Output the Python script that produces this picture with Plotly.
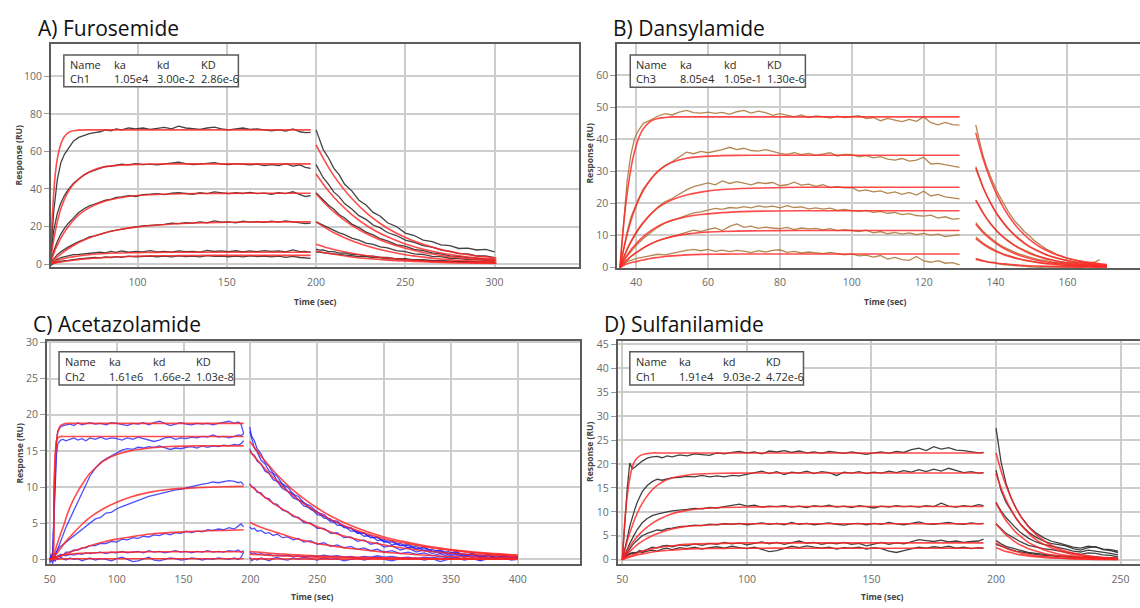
import plotly.graph_objects as go

W, H = 1140, 608

# ---------------- Panel A: Furosemide ----------------
A_t_on = [51, 53, 55, 57, 59, 61, 64, 67, 70, 73, 76, 79, 82, 85, 88, 91, 95, 99, 103, 107,
          111, 115, 119, 123, 127, 131, 135, 139, 143, 147, 151, 155, 159, 163, 167, 171, 175, 179, 183, 187,
          191, 194, 197]
A1_on = [1, 28, 45, 54, 58.5, 61.5, 65.5, 67.5, 68.5, 69.5,
         70, 70.5, 71.5, 71, 72, 71.5, 72.5, 72, 72.5, 71.8,
         72.3, 72.8, 72, 73.5, 72.5, 72.2, 71.8, 72.5, 73, 72,
         71.5, 72, 72.5, 71.8, 72, 71.5, 71, 71.5, 70.8, 72,
         70.5, 70, 70.2]
A2_on = [1, 18, 27, 32.5, 36.5, 39.5, 43, 45.5, 47.5, 49,
         50, 51, 52, 52, 52.8, 53.2, 52.8, 53.5, 53, 53.3,
         52.8, 53.2, 53.8, 54.3, 53.5, 53, 53.2, 53.8, 54, 53.2,
         53, 53.5, 53, 52.8, 53.2, 52.5, 53, 52.5, 53.5, 52.2,
         52.8, 51.5, 51]
A3_on = [0.5, 7, 12, 16, 19, 21.5, 24.5, 27.5, 29.5, 31,
         32, 33, 34, 34.5, 35.5, 35.8, 36.5, 36, 37, 37.2,
         37.5, 37, 37.8, 38, 37.5, 37.2, 38, 37.5, 38.5, 37.8,
         37.5, 38, 37.6, 38.2, 37.5, 37.8, 37.2, 38, 37.5, 38.5,
         37, 36, 36.5]
A4_on = [0.5, 3, 5, 6.5, 8, 9, 10.5, 12, 13, 14.5,
         15, 16, 16.8, 17.5, 18, 18.5, 19.5, 19.8, 20.3, 20.5,
         21, 21.2, 21.8, 21.5, 22, 21.8, 22.5, 22, 23, 22.3,
         22.5, 22, 22.8, 22.3, 22.6, 22.2, 22.8, 22.4, 23, 22.5,
         22, 21.5, 21.8]
A5_on = [0, 1.5, 2.5, 3.5, 4, 4.3, 5, 5.2, 5.5, 5.8,
         6, 6.3, 6, 6.8, 6.2, 7, 6.3, 6.8, 6.5, 7.2,
         6.5, 6.8, 6.3, 7, 6.6, 6.8, 6.4, 7.3, 6.7, 7,
         6.6, 7.1, 6.5, 7, 6.6, 7.2, 6.8, 7, 6.5, 7.5,
         6.6, 6.8, 6.2]
A6_on = [-1, 0.5, 1, 1.5, 1.8, 2, 2.5, 2.8, 3, 3.3,
         3.5, 3.3, 3.8, 3.5, 4, 3.6, 4.2, 3.8, 4, 4.3,
         3.9, 4.2, 3.8, 4.4, 4, 4.2, 3.8, 4.5, 4.1, 4.3,
         3.9, 4.2, 3.8, 4.4, 4, 4.3, 3.8, 4.2, 3.6, 4.1,
         3.5, 3.2, 3]
A_t_off = [200, 202, 204, 207, 210, 213, 216, 220, 224, 228, 232, 236, 240, 245, 250, 255, 260, 265, 270, 275,
           280, 285, 290, 295, 300]
A1_off = [71.5, 66.5, 61, 56.5, 51, 47.5, 42.5, 39, 34, 31.5, 27.5, 25.5, 22, 20, 16.5, 15.2, 12.8, 12, 10.2, 9.8,
          8.3, 8.5, 7.5, 7.8, 6.5]
A2_off = [53, 49.8, 46, 42.5, 38.3, 35.8, 32.2, 29.3, 25.8, 23.8, 20.8, 19.3, 16.8, 15.2, 12.8, 11.5, 9.8, 9, 7.5, 6.8,
          5.6, 5.4, 4.3, 4.4, 3.4]
A3_off = [38, 36, 34.5, 31.3, 29.2, 26.3, 24.5, 21.3, 19.4, 17, 15.5, 13.5, 12.4, 10.4, 9.4, 7.8, 7.2, 5.9, 5.4, 4.4,
          4.1, 3.4, 3.2, 2.7, 2.6]
A4_off = [22.5, 21.6, 21, 19.3, 18.2, 16.6, 15.7, 13.8, 12.8, 11.2, 10.5, 9.1, 8.6, 7.1, 6.6, 5.4, 5.1, 4.1, 4, 3.1,
          3, 2.4, 2.5, 1.8, 1.9]
A5_off = [8, 7.4, 7.5, 6.6, 6.6, 5.8, 5.9, 5, 5, 4.2, 4.2, 3.5, 3.6, 2.8, 2.9, 2.2, 2.4, 1.8, 2, 1.4,
          1.6, 1.1, 1.4, 0.9, 1.1]
A6_off = [6.5, 6.3, 5.9, 5.8, 5.3, 5.3, 4.7, 4.6, 4, 4, 3.4, 3.4, 2.8, 2.8, 2.2, 2.3, 1.8, 1.9, 1.4, 1.5,
          1.1, 1.2, 0.8, 1, 0.7]
A_tf_on = [51, 52, 53, 54, 55, 57, 59, 62, 65, 70, 75, 80, 90, 100, 110, 125, 140, 160, 180, 197]
AF1_on = [0, 22, 38, 49, 56, 64, 68, 70.5, 71.2, 71.5, 71.5, 71.5, 71.5, 71.5, 71.5, 71.5, 71.5, 71.5, 71.5, 71.5]
AF2_on = [0, 7, 13, 18, 22.5, 29.5, 34.5, 40, 43.5, 47.5, 50, 51.5, 52.7, 53.1, 53.3, 53.4, 53.4, 53.4, 53.4, 53.4]
AF3_on = [0, 3, 5.5, 8, 10, 13.8, 17, 21, 24.3, 28.3, 31, 33, 35.3, 36.5, 37.1, 37.5, 37.6, 37.7, 37.7, 37.7]
AF4_on = [0, 1, 2, 2.9, 3.8, 5.3, 6.8, 8.7, 10.4, 12.8, 14.7, 16.2, 18.4, 19.8, 20.7, 21.6, 22.1, 22.4, 22.5, 22.5]
AF5_on = [0, 0.5, 1, 1.4, 1.8, 2.5, 3, 3.6, 4.1, 4.7, 5.2, 5.5, 5.9, 6.1, 6.2, 6.3, 6.3, 6.3, 6.3, 6.3]
AF6_on = [0, 0.2, 0.4, 0.6, 0.8, 1.1, 1.4, 1.8, 2.2, 2.7, 3.1, 3.4, 3.9, 4.2, 4.4, 4.5, 4.6, 4.6, 4.6, 4.6]
A_tf_off = [200, 205, 210, 220, 230, 240, 250, 260, 270, 280, 290, 301]
AF1_off = [63.5, 54.7, 47, 34.9, 25.8, 19.1, 14.2, 10.5, 7.7, 5.8, 4.3, 3.2]
AF2_off = [48, 41.3, 35.6, 26.4, 19.5, 14.5, 10.7, 7.9, 5.9, 4.4, 3.2, 2.4]
AF3_off = [37.5, 32.3, 27.8, 20.6, 15.3, 11.3, 8.4, 6.2, 4.6, 3.4, 2.5, 1.9]
AF4_off = [22.5, 19.4, 16.7, 12.4, 9.2, 6.8, 5, 3.7, 2.7, 2, 1.5, 1.1]
AF5_off = [10.5, 9, 7.8, 5.8, 4.3, 3.2, 2.3, 1.7, 1.3, 1, 0.7, 0.5]
AF6_off = [7, 6, 5.2, 3.8, 2.8, 2.1, 1.6, 1.2, 0.9, 0.6, 0.5, 0.35]

# ---------------- Panel B: Dansylamide ----------------
B_t_on = [35.5, 36.5, 37.5, 38.5, 39.5, 40.5, 42, 44, 46, 48,
          50, 52, 54, 56, 58, 60, 62, 64, 66, 68,
          70, 72, 74, 76, 78, 80, 82, 84, 86, 88,
          90, 92, 94, 96, 98, 100, 102, 104, 106, 108,
          110, 112, 114, 116, 118, 120, 122, 124, 126, 128,
          130]
B1_on = [0, 14, 27, 35, 40, 42.5, 45, 46, 47.2, 48,
         47.6, 48.5, 49, 48.3, 48.2, 48.5, 48.1, 48.4, 47.8, 48.6,
         49, 48.2, 48.8, 48.3, 47.5, 48, 47.5, 47, 47.6, 46.8,
         47.3, 47.1, 46.6, 47.2, 46.8, 47, 47.4, 46.5, 46.8, 45.8,
         46.5, 46, 45.5, 46.2, 45.6, 47, 45.2, 44.5, 45.3, 44.6,
         44.4]
B2_on = [0, 6, 11, 15.5, 18.5, 21, 24.5, 27.5, 30, 31.8,
         33, 34.5, 36, 35.5, 36.2, 35.8, 36.2, 36.8, 37.5, 36.8,
         37.2, 36.5, 36.3, 36.8, 36.2, 35.6, 35.3, 35.8, 35.2, 35.6,
         35, 35.5, 35.8, 34.8, 35.3, 35.2, 34.5, 34.9, 34.2, 34.6,
         33.8, 33.5, 34, 33.2, 33.5, 34.4, 32.3, 32.5, 32.1, 31.6,
         31.2]
B3_on = [0, 3, 5.5, 7.8, 9.8, 11.5, 13.8, 16.5, 18.8, 20.5,
         21.5, 22.8, 24.2, 25.2, 25.8, 26.4, 25.8, 27, 26.2, 26.8,
         26.3, 25.8, 26.5, 26.2, 26.5, 25.5, 25.8, 26.6, 25.7, 26,
         25.3, 25.8, 24.9, 25.2, 24.8, 24.9, 23.8, 24.2, 23.6, 23.9,
         23.1, 23.6, 22.8, 23.4, 22.6, 23.8, 22.3, 22.8, 22, 21.8,
         21.4]
B4_on = [0, 2, 3.5, 5, 6.2, 7.4, 9, 10.8, 12.5, 13.8,
         14.6, 15.2, 16.2, 17, 17.3, 17.9, 18.4, 18.1, 18.7, 18.5,
         19, 18.6, 19.2, 18.8, 19.1, 18.6, 19.3, 18.7, 18.9, 18.3,
         18.6, 18.2, 18.5, 17.8, 18.1, 17.7, 17.5, 17.8, 17.2, 17.5,
         16.9, 17.2, 16.5, 16.8, 16.2, 16, 16.3, 15.4, 15.8, 15.1,
         15.2]
B5_on = [0, 1.2, 2.3, 3.3, 4.1, 4.9, 6, 7.3, 8.3, 9,
         9.6, 10.3, 10.8, 11.6, 11.2, 11.9, 12.3, 11.5, 12.8, 13.6,
         12.5, 12.9, 12.2, 12.6, 12.3, 12.1, 12.5, 11.8, 12.3, 12,
         12.2, 11.7, 12.1, 11.5, 11.8, 11.5, 11.2, 11.6, 10.8, 11.2,
         10.5, 10.9, 10.4, 10.8, 10.2, 10.6, 10.1, 10.4, 9.6, 9.9,
         10.2]
B6_on = [0, 1, 1.8, 2.2, 2.6, 2.9, 3.2, 3.6, 4.1, 3.9,
         4.4, 4.8, 5.3, 5.6, 5.2, 5.6, 5, 5.4, 4.9, 5.3,
         5.1, 4.6, 5.2, 4.8, 5.3, 5.5, 4.7, 5, 4.5, 4.8,
         4.6, 4.3, 4.7, 4.4, 3.9, 4.2, 3.6, 3.8, 3.2, 3.7,
         2.6, 3.1, 2.4, 2.2, 3.4, 2, 1.6, 2.1, 1.3, 1.5,
         0.8]
B_t_off = [134.5, 135.5, 136.5, 137.5, 138.5, 139.5, 140.5, 142, 143.5, 145, 146.5, 148, 149.5, 151, 152.5, 154,
           155.5, 157, 158.5, 160, 161.5, 163, 164.5, 166, 167.5, 169]
B1_off = [44.5, 39.5, 35, 31.5, 28.5, 26, 23.5, 20.5, 17.5, 15, 13, 11.2, 9.8, 8.2, 7, 5.8, 5, 4.1, 3.5, 2.8,
          2.5, 2, 1.6, 1.3, 1.6, 2.4]
B2_off = [31.5, 28, 25, 22.5, 20.3, 18.3, 16.5, 14.2, 12.2, 10.5, 9, 7.7, 6.5, 5.6, 4.8, 4, 3.4, 2.9, 2.5, 2.1,
          1.8, 1.5, 1.3, 1.2, 1, 1.1]
B3_off = [21, 19, 17, 15.3, 13.8, 12.4, 11.2, 9.6, 8.3, 7.1, 6.2, 5.4, 4.6, 3.9, 3.3, 2.8, 2.3, 2, 1.7, 1.4,
          1.6, 1.1, 0.9, 1.2, 0.8, 0.6]
B4_off = [14, 12.6, 11.3, 10.3, 9.3, 8.4, 7.5, 6.5, 5.6, 4.9, 4.2, 3.6, 3.2, 2.7, 2.3, 2.2, 1.7, 1.5, 1.3, 1,
          1.1, 0.8, 0.6, 0.9, 0.5, 0.4]
B5_off = [9.5, 8.5, 7.6, 6.9, 6.2, 5.6, 5, 4.3, 3.7, 3.2, 2.7, 2.3, 2, 1.7, 1.5, 1.2, 1.4, 1, 0.8, 0.6,
          0.8, 0.5, 0.4, 0.3, 0.5, 0.3]
B6_off = [2.8, 2.5, 2.2, 1.8, 1.5, 1.6, 1.2, 0.9, 0.7, 0.5, 0.4, 0.3, 0.2, 0.1, 0, 0.2, 0.1, 0, 0.1, 0,
          0.2, 0, 0.1, 0.3, 0.1, 0.2]
B_tf_on = [35.5, 36, 36.5, 37, 37.5, 38, 39, 40, 41, 42, 44, 46, 48, 50, 54, 58, 64, 72, 85, 100, 130]
BF1_on = [0, 7, 13, 18.5, 23, 27, 33.5, 38, 41.2, 43.3, 45.6, 46.5, 46.8, 47, 47, 47, 47, 47, 47, 47, 47]
BF2_on = [0, 2.8, 5.5, 8, 10.3, 12.4, 16.1, 19.2, 21.8, 24, 27.4, 29.9, 31.6, 32.8, 34.1, 34.6, 34.9, 35, 35, 35, 35]
BF3_on = [0, 1.5, 3, 4.4, 5.7, 6.9, 9, 10.9, 12.6, 14.1, 16.6, 18.6, 20, 21.1, 22.6, 23.5, 24.3, 24.7, 25, 25, 25]
BF4_on = [0, 1, 2, 2.9, 3.8, 4.6, 6.1, 7.4, 8.6, 9.6, 11.4, 12.8, 13.9, 14.7, 15.8, 16.5, 17.1, 17.5, 17.7, 17.7, 17.7]
BF5_on = [0, 0.7, 1.3, 1.9, 2.4, 2.9, 3.8, 4.6, 5.4, 6.1, 7.3, 8.3, 9, 9.6, 10.4, 10.9, 11.2, 11.4, 11.5, 11.5, 11.5]
BF6_on = [0, 0.3, 0.6, 0.9, 1.1, 1.3, 1.6, 1.8, 2.1, 2.3, 2.8, 3.1, 3.4, 3.6, 3.9, 4.05, 4.15, 4.2, 4.2, 4.2, 4.2]
B_tf_off = [134.5, 136.5, 138.5, 140.5, 142.5, 144.5, 146.5, 149.5, 152.5, 155.5, 159.5, 164.5, 171]
BF1_off = [42, 34.1, 27.6, 22.4, 18.1, 14.7, 11.9, 8.7, 6.3, 4.6, 3, 1.8, 0.9]
BF2_off = [31, 25.1, 20.4, 16.5, 13.4, 10.9, 8.8, 6.4, 4.7, 3.4, 2.2, 1.3, 0.65]
BF3_off = [21, 17, 13.8, 11.2, 9.1, 7.4, 6, 4.3, 3.2, 2.3, 1.5, 0.9, 0.45]
BF4_off = [13.5, 10.9, 8.9, 7.2, 5.8, 4.7, 3.8, 2.8, 2, 1.5, 1, 0.6, 0.3]
BF5_off = [9, 7.3, 5.9, 4.8, 3.9, 3.2, 2.6, 1.9, 1.4, 1, 0.6, 0.4, 0.2]
BF6_off = [2.5, 2, 1.6, 1.3, 1.1, 0.9, 0.7, 0.5, 0.4, 0.3, 0.2, 0.1, 0.05]

# ---------------- Panel C: Acetazolamide ----------------
C_t_on = [50, 51, 52, 53, 54, 55, 56, 58, 60, 62,
          65, 68, 71, 74, 77, 80, 84, 88, 92, 96,
          100, 104, 108, 112, 116, 120, 124, 128, 132, 136,
          140, 144, 148, 152, 156, 160, 164, 168, 172, 176,
          180, 184, 188, 191, 193, 195]
C1_on = [0, -0.3, 0.5, 6, 13, 16.5, 17.8, 18.3, 18.5, 18.6,
         18.7, 18.5, 18.9, 18.6, 18.8, 18.9, 18.7, 18.8, 18.6, 18.9,
         18.8, 18.7, 18.5, 18.8, 18.7, 18.9, 18.6, 18.9, 19.1, 18.8,
         18.5, 18.7, 18.9, 18.7, 18.6, 18.8, 18.7, 18.8, 18.6, 18.8,
         18.9, 19.1, 18.8, 19, 18.7, 17.4]
C2_on = [0.2, 0, 0.5, 5, 11, 14.5, 16, 16.5, 16.6, 16.4,
         16.6, 16.8, 16.5, 16.7, 16.4, 16.8, 16.6, 16.9, 16.6, 16.8,
         16.7, 16.5, 16.8, 16.6, 16.9, 16.7, 16.5, 16.3, 16.5, 16.8,
         16.9, 16.6, 16.8, 16.7, 16.9, 16.8, 17, 16.9, 17.2, 16.9,
         17, 16.8, 17, 17.2, 17.1, 17.4]
C3_on = [0, 0.2, -0.2, 0.3, 0.6, 1, 1.5, 2.5, 3.5, 4.4,
         5.6, 6.8, 8, 9.3, 10.5, 11.5, 12.6, 13.4, 13.9, 14.3,
         14.8, 15.1, 15.3, 15.2, 15.5, 15.4, 15.6, 15.5, 15.7, 15.4,
         15.2, 15.4, 15.3, 15.5, 15.6, 15.4, 15.7, 15.5, 15.7, 15.6,
         15.8, 15.7, 15.9, 15.8, 16, 16.4]
C4_on = [0, 0.3, 0, 0.4, 0.8, 1.1, 1.4, 1.8, 2.1, 2.4,
         2.8, 3.3, 3.7, 4.2, 4.6, 5, 5.6, 5.8, 6.4, 6.5,
         7, 7.3, 7.6, 7.9, 8.2, 8.4, 8.7, 8.9, 9.1, 9.3,
         9.4, 9.6, 9.7, 9.9, 10.1, 10.2, 10.4, 10.5, 10.7, 10.6,
         10.8, 10.9, 10.8, 10.6, 10.7, 10.3]
C5_on = [0, 0.5, 0.2, 0.1, 0.3, 0.2, 0.4, 0.7, 0.6, 1.0,
         1.0, 1.3, 1.3, 1.6, 1.6, 1.9, 1.9, 2.2, 2.2, 2.5,
         2.4, 2.8, 2.7, 3.0, 2.9, 3.2, 3.1, 3.4, 3.3, 3.6,
         3.4, 3.7, 3.6, 3.9, 3.7, 3.9, 3.8, 4.1, 4.0, 4.2,
         4.1, 4.4, 4.2, 4.6, 4.9, 4.5]
C6_on = [0, 0.3, -0.2, 0.2, 0.4, 0.3, 0.5, 0.4, 0.6, 0.5,
         0.7, 0.6, 0.8, 0.7, 0.9, 0.8, 0.9, 1, 0.8, 1,
         0.9, 1.1, 0.9, 1, 1.1, 0.9, 1.2, 1, 1.1, 0.9,
         1, 1.2, 1, 1.1, 0.9, 1.1, 1, 1.2, 1, 1.1,
         1, 1.2, 1.1, 1.3, 1, 1.2]
C7_on = [-0.5, 0.8, -0.6, 0.1, -0.3, 0.2, 0, 0.3, 0.1, -0.1,
         0.2, 0, 0.1, -0.2, 0, 0.2, -0.1, 0.1, 0, -0.2,
         0.1, 0.3, 0, -0.3, -0.2, 0.1, 0.3, -0.1, -0.2, 0,
         0.2, 0.1, -0.1, 0, 0.2, 0.1, -0.1, 0.1, 0, 0.2,
         0.1, 0, 0.2, 0, 0.3, 1]
C_t_off = [199.5, 201, 203, 205, 208, 211, 214, 217, 220, 224,
           228, 232, 236, 240, 245, 250, 255, 260, 265, 270,
           275, 280, 285, 290, 295, 300, 306, 312, 318, 324,
           330, 336, 342, 348, 354, 360, 366, 372, 378, 384,
           390, 395, 400]
C1_off = [18.3, 17.0, 16.4, 15.3, 14.6, 13.4, 12.9, 11.9, 11.5, 10.4,
          10.0, 9.0, 8.7, 7.8, 7.4, 6.5, 6.2, 5.4, 5.3, 4.5,
          4.4, 3.7, 3.7, 3.0, 3.1, 2.5, 2.6, 1.9, 2.1, 1.5,
          1.7, 1.1, 1.3, 0.8, 1.1, 0.5, 0.8, 0.4, 0.7, 0.2,
          0.6, 0.2, 0.4]
C2_off = [17.7, 16.7, 15.4, 14.9, 13.7, 13.2, 12.2, 11.8, 10.9, 10.4,
          9.4, 9.1, 8.2, 7.9, 6.9, 6.6, 5.7, 5.6, 4.7, 4.7,
          3.9, 3.9, 3.2, 3.3, 2.6, 2.7, 2.0, 2.2, 1.6, 1.8,
          1.2, 1.4, 0.8, 1.1, 0.6, 0.8, 0.3, 0.6, 0.2, 0.5,
          0.1, 0.4, 0.1]
C3_off = [15.3, 14.6, 14.4, 13.6, 13.2, 12.2, 11.9, 11.0, 10.8, 9.8,
          9.4, 8.5, 8.2, 7.4, 7.1, 6.2, 6.0, 5.2, 5.1, 4.4,
          4.3, 3.6, 3.6, 3.0, 3.0, 2.4, 2.4, 1.9, 1.9, 1.4,
          1.6, 1.1, 1.2, 0.8, 1.0, 0.6, 0.8, 0.4, 0.6, 0.2,
          0.5, 0.2, 0.3]
C4_off = [10.5, 10.0, 9.9, 9.3, 9.2, 8.5, 8.4, 7.7, 7.6, 6.8,
          6.6, 5.9, 5.8, 5.1, 5.0, 4.3, 4.3, 3.6, 3.7, 3.0,
          3.1, 2.5, 2.7, 2.1, 2.3, 1.7, 1.9, 1.3, 1.6, 1.0,
          1.3, 0.8, 1.1, 0.6, 0.9, 0.4, 0.8, 0.3, 0.6, 0.2,
          0.5, 0.1, 0.3]
C5_off = [4.5, 4.2, 4.3, 3.9, 4.0, 3.6, 3.7, 3.3, 3.5, 3.0,
          3.1, 2.7, 2.9, 2.4, 2.6, 2.1, 2.3, 1.8, 2.0, 1.6,
          1.8, 1.4, 1.6, 1.2, 1.4, 1.0, 1.2, 0.8, 1.0, 0.7,
          0.9, 0.5, 0.8, 0.4, 0.7, 0.3, 0.6, 0.2, 0.5, 0.1,
          0.4, 0.1, 0.3]
C6_off = [1, 0.8, 0.9, 0.7, 0.8, 0.6, 0.7, 0.5, 0.6, 0.5,
          0.6, 0.4, 0.5, 0.3, 0.5, 0.4, 0.6, 0.4, 0.5, 0.3,
          0.4, 0.2, 0.4, 0.3, 0.5, 0.3, 0.4, 0.2, 0.3, 0.1,
          0.3, 0.2, 0.4, 0.2, 0.3, 0, 0.2, -0.1, 0.2, 0.1,
          0.3, 0.1, 0.2]
C7_off = [0.3, -0.2, 0.1, -0.1, 0.2, 0, -0.2, 0.1, 0.3, 0,
          -0.1, 0.2, 0, 0.3, 0.1, -0.1, 0.2, 0, 0.1, -0.2,
          0, 0.2, -0.1, 0.1, 0.3, 0, -0.2, 0.1, 0, 0.2,
          -0.1, 0.1, -0.3, 0, 0.2, -0.1, 0.1, -0.2, 0.1, 0,
          0.2, -0.1, 0]
C_tf_on = [50, 52, 53, 54, 55, 56, 58, 60, 63, 66, 70, 75, 80, 90, 100, 110, 125, 140, 160, 180, 195]
CF1_on = [0, 0, 8, 13.5, 16.3, 17.6, 18.5, 18.7, 18.8, 18.8, 18.8, 18.8, 18.8, 18.8, 18.8, 18.8, 18.8, 18.8, 18.8, 18.8, 18.8]
CF2_on = [0, 0, 9, 14.5, 16.3, 16.8, 17, 17, 17, 17, 17, 17, 17, 17, 17, 17, 17, 17, 17, 17, 17]
CF3_on = [0, 0, 0.6, 1.2, 1.8, 2.4, 3.5, 4.5, 6.2, 7.6, 9.1, 10.6, 11.9, 13.6, 14.5, 15, 15.4, 15.6, 15.7, 15.7, 15.7]
CF4_on = [0, 0, 0.25, 0.5, 0.75, 1, 1.5, 2, 2.7, 3.3, 4.1, 5, 5.8, 7, 7.9, 8.6, 9.3, 9.7, 9.9, 10.05, 10.1]
CF5_on = [0, 0, 0.1, 0.2, 0.3, 0.35, 0.5, 0.65, 0.85, 1.05, 1.3, 1.6, 1.9, 2.4, 2.8, 3.1, 3.5, 3.7, 3.9, 4, 4.1]
CF6_on = [0, 0, 0.1, 0.2, 0.3, 0.4, 0.5, 0.6, 0.7, 0.75, 0.8, 0.85, 0.9, 0.95, 1, 1, 1.05, 1.05, 1.05, 1.05, 1.05]
CF7_on = [0, 0, 0.02, 0.03, 0.04, 0.05, 0.06, 0.07, 0.08, 0.08, 0.08, 0.08, 0.08, 0.08, 0.08, 0.08, 0.08, 0.08, 0.08, 0.08, 0.08]
C_tf_off = [199.5, 210, 220, 230, 240, 250, 260, 275, 300, 325, 350, 375, 400]
CF1_off = [16.3, 13.8, 11.7, 9.9, 8.4, 7.1, 6, 4.7, 3.1, 2.1, 1.35, 0.9, 0.6]
CF2_off = [15, 12.7, 10.8, 9.1, 7.7, 6.5, 5.5, 4.3, 2.85, 1.9, 1.25, 0.8, 0.5]
CF3_off = [10.3, 8.7, 7.4, 6.3, 5.3, 4.5, 3.8, 3, 2, 1.3, 0.85, 0.6, 0.4]
CF4_off = [5.1, 4.3, 3.7, 3.1, 2.6, 2.2, 1.9, 1.5, 1, 0.65, 0.4, 0.3, 0.2]
CF5_off = [1.1, 0.93, 0.79, 0.67, 0.57, 0.48, 0.41, 0.32, 0.21, 0.14, 0.09, 0.06, 0.04]
CF6_off = [0.7, 0.6, 0.5, 0.43, 0.36, 0.3, 0.26, 0.2, 0.13, 0.09, 0.06, 0.04, 0.03]
CF7_off = [0.08, 0.07, 0.06, 0.05, 0.04, 0.04, 0.03, 0.03, 0.02, 0.01, 0.01, 0.01, 0.01]

# ---------------- Panel D: Sulfanilamide ----------------
D_t_on = [50, 51, 52, 53, 54, 55, 56, 57, 58, 60,
          62, 64, 66, 68, 70, 73, 76, 79, 82, 85,
          88, 91, 94, 97, 100, 103, 106, 109, 112, 115,
          118, 121, 124, 127, 130, 133, 136, 139, 142, 145,
          148, 151, 154, 157, 160, 163, 166, 169, 172, 175,
          178, 181, 184, 187, 190, 193, 195]
D1_on = [0, 8, 15, 20.2, 19, 19.3, 19.8, 20.3, 20.6, 21.2,
         21.5, 21.6, 21.3, 21.7, 21.5, 21.9, 21.7, 22.1, 22, 21.8,
         22.3, 22.1, 22.4, 22.6, 22.3, 22.5, 22.1, 22.7, 22.5, 22.8,
         22.4, 22.7, 22.3, 22.5, 22.2, 22.6, 22.4, 22.2, 22.5, 22.3,
         22, 22.3, 22.5, 22.2, 22.6, 22.4, 23, 23.3, 22.8, 23.6,
         23.1, 23.4, 22.9, 22.8, 22.6, 22.3, 22.4]
D2_on = [0, 2, 4.5, 7, 9, 10.5, 12, 13.3, 14.2, 15.5,
         16.3, 16.8, 16.6, 16.9, 17.1, 17.2, 17.4, 17.3, 17.6, 17.3,
         17.5, 17.3, 17.6, 17.5, 17.8, 18.2, 18.5, 18, 18.4, 17.8,
         18.3, 18.1, 18.5, 18, 18.4, 18.2, 17.6, 18.3, 18.1, 18.4,
         18, 18.3, 18.1, 18.5, 18.2, 18.6, 18.3, 18.8, 18.4, 18.9,
         18.5, 19.1, 18.6, 18.2, 18.4, 18.1, 18.2]
D3_on = [0, 1, 2.2, 3.4, 4.5, 5.4, 6.3, 7.1, 7.7, 8.6,
         9.2, 9.5, 9.8, 10, 10.2, 10.3, 10.5, 10.7, 10.6, 10.9,
         10.8, 11.1, 11.3, 11.6, 11.2, 11.4, 11, 11.2, 11.1, 11.3,
         11, 11.2, 10.9, 11.3, 11.1, 11.4, 11, 11.2, 10.9, 11.3,
         11.1, 10.8, 11.2, 11, 11.3, 11.1, 11.2, 11, 11.3, 11.1,
         11.8, 11.2, 11, 11.3, 11.1, 11.5, 11.3]
D4_on = [0, 0.8, 1.6, 2.4, 3, 3.6, 4.1, 4.6, 5, 5.5,
         5.9, 6.2, 6.1, 6.5, 6.6, 6.9, 7, 7.2, 7.1, 7.4,
         7.3, 7.5, 7.4, 7.6, 7.3, 7.5, 7.7, 7.4, 7.6, 7.3,
         7.8, 7.4, 7.6, 7.3, 7.5, 7.7, 7.4, 7.2, 7.5, 7.6,
         7.3, 7.6, 7.4, 7.8, 7.5, 7.3, 7.6, 7.9, 7.5, 7.4,
         7.6, 7.8, 7.5, 7.4, 7.7, 7.5, 7.6]
D5_on = [0, 0.5, 0.9, 1.2, 1.5, 1.3, 1.6, 1.9, 1.7, 2.2,
         2.6, 2.4, 2.9, 3, 2.7, 3.1, 2.9, 3.3, 3, 3.4,
         3.2, 3.6, 3.3, 3.5, 3.1, 3.4, 3.7, 3.3, 3.6, 3.2,
         3.5, 3.9, 3.4, 3.6, 3.2, 3.5, 3.3, 3.6, 3.2, 3.4,
         2.9, 3.3, 3.6, 3.2, 3.5, 3.3, 3.7, 4.2, 4, 3.8,
         4.1, 3.7, 3.9, 3.6, 3.8, 3.9, 4.3]
D6_on = [0, 0.6, 1, 1.3, 1.2, 1.5, 1.4, 1.7, 1.5, 1.8,
         2, 1.8, 2.2, 2.4, 2.1, 2.5, 2.3, 2.6, 2.2, 2.5,
         2.7, 2.4, 2.8, 2.5, 2.3, 2.6, 2.1, 1.7, 1.9, 2.3,
         2.8, 2.5, 2.9, 2.6, 2.4, 2.6, 2.2, 2.5, 2.4, 2.6,
         2.2, 2.5, 2.3, 1.8, 1.5, 1.9, 2.2, 2.6, 2.4, 2.7,
         2.5, 2.8, 2.4, 2.6, 2.3, 2.5, 2.4]
D_t_off = [200, 201, 202, 204, 206, 208, 210, 213, 216, 219, 222, 225, 228, 231, 234, 237, 240, 243, 246, 249]
D1_off = [27.5, 24, 20.5, 16, 13, 10.8, 9, 7, 5.6, 4.6, 3.9, 3.5, 3.1, 2.6, 2.4, 2.8, 2.6, 2.2, 2.1, 1.8]
D2_off = [18.7, 16.5, 14.5, 12, 10.2, 8.7, 7.3, 5.8, 4.7, 3.9, 3.4, 3.2, 2.9, 2.3, 2, 2.5, 2.7, 2.1, 1.9, 1.5]
D3_off = [12, 11, 10.2, 8.8, 7.6, 6.6, 5.6, 4.5, 3.7, 3.2, 2.9, 2.6, 2.2, 1.8, 1.6, 2, 1.8, 1.5, 1.3, 1]
D4_off = [7.5, 7, 6.5, 5.5, 4.9, 4.3, 3.7, 3, 2.6, 2.3, 2.1, 1.8, 1.5, 1.3, 1.1, 1.4, 1.3, 1, 0.9, 0.6]
D5_off = [4, 3.6, 3.3, 2.8, 2.5, 2.2, 1.9, 1.5, 1.3, 1.1, 1, 0.8, 0.7, 0.6, 0.5, 0.7, 0.5, 0.4, 0.4, 0.3]
D6_off = [3.2, 3, 2.8, 2.4, 2.1, 1.8, 1.6, 1.3, 1.1, 0.9, 0.8, 0.7, 0.6, 0.5, 0.4, 0.5, 0.4, 0.3, 0.3, 0.2]
D_tf_on = [50, 51, 52, 53, 54, 55, 57, 59, 62, 65, 70, 75, 80, 90, 100, 120, 150, 195]
DF1_on = [0, 8, 13.5, 17, 19.3, 20.6, 21.7, 22.1, 22.3, 22.3, 22.3, 22.3, 22.3, 22.3, 22.3, 22.3, 22.3, 22.3]
DF2_on = [0, 2, 3.9, 5.6, 7.1, 8.5, 10.8, 12.6, 14.6, 15.9, 17.1, 17.6, 17.9, 18.05, 18.1, 18.1, 18.1, 18.1]
DF3_on = [0, 1, 1.9, 2.7, 3.5, 4.2, 5.4, 6.4, 7.6, 8.5, 9.6, 10.2, 10.6, 10.9, 11, 11.1, 11.1, 11.1]
DF4_on = [0, 0.6, 1.2, 1.7, 2.2, 2.7, 3.5, 4.2, 5, 5.6, 6.4, 6.9, 7.1, 7.4, 7.5, 7.5, 7.5, 7.5]
DF5_on = [0, 0.3, 0.6, 0.8, 1, 1.2, 1.6, 1.9, 2.3, 2.6, 2.9, 3.2, 3.3, 3.4, 3.5, 3.5, 3.5, 3.5]
DF6_on = [0, 0.2, 0.4, 0.55, 0.7, 0.85, 1.1, 1.3, 1.6, 1.8, 2, 2.2, 2.3, 2.35, 2.4, 2.4, 2.4, 2.4]
D_tf_off = [200, 202, 204, 206, 208, 210, 213, 216, 220, 225, 230, 240, 249]
DF1_off = [22.3, 18.6, 15.5, 13, 10.8, 9, 6.9, 5.3, 3.7, 2.3, 1.5, 0.6, 0.27]
DF2_off = [18, 15, 12.5, 10.5, 8.7, 7.3, 5.6, 4.2, 3, 1.9, 1.2, 0.5, 0.2]
DF3_off = [11.8, 9.9, 8.2, 6.9, 5.7, 4.8, 3.6, 2.8, 1.9, 1.2, 0.8, 0.3, 0.15]
DF4_off = [7.5, 6.3, 5.2, 4.4, 3.6, 3, 2.3, 1.8, 1.2, 0.8, 0.5, 0.2, 0.1]
DF5_off = [3.5, 2.9, 2.4, 2, 1.7, 1.4, 1.1, 0.8, 0.6, 0.4, 0.2, 0.1, 0.04]
DF6_off = [2.5, 2.1, 1.7, 1.5, 1.2, 1, 0.8, 0.6, 0.4, 0.3, 0.2, 0.07, 0.03]

# ---------------- fit-parameter tables ----------------
A_params = ["Ch1", "1.05e4", "3.00e-2", "2.86e-6"]
B_params = ["Ch3", "8.05e4", "1.05e-1", "1.30e-6"]
C_params = ["Ch2", "1.61e6", "1.66e-2", "1.03e-8"]
D_params = ["Ch1", "1.91e4", "9.03e-2", "4.72e-6"]
param_headers = ["Name", "ka", "kd", "KD"]

titles = ["A) Furosemide", "B) Dansylamide", "C) Acetazolamide", "D) Sulfanilamide"]
A_xticks = [100, 150, 200, 250, 300]
A_yticks = [0, 20, 40, 60, 80, 100]
B_xticks = [40, 60, 80, 100, 120, 140, 160, 180]
B_yticks = [0, 10, 20, 30, 40, 50, 60]
C_xticks = [50, 100, 150, 200, 250, 300, 350, 400]
C_yticks = [0, 5, 10, 15, 20, 25, 30]
D_xticks = [50, 100, 150, 200, 250]
D_yticks = [0, 5, 10, 15, 20, 25, 30, 35, 40, 45]

# ---------------- layout geometry (pixels) ----------------
def fx(px):
    return px / W


def fy(py):
    return 1 - py / H


panels = [
    dict(ax="", title=titles[0], tpos=(33, 22), xdom=(48, 578), ydom=(38.3, 266.7),
         xr=[51.4, 347.6], yr=[-1.8, 117.5], xt=A_xticks, yt=A_yticks, mirror_y=True,
         dcol="rgba(45,45,45,0.9)",
         t_on=A_t_on, d_on=[A1_on, A2_on, A3_on, A4_on, A5_on, A6_on],
         t_off=A_t_off, d_off=[A1_off, A2_off, A3_off, A4_off, A5_off, A6_off],
         tf_on=A_tf_on, f_on=[AF1_on, AF2_on, AF3_on, AF4_on, AF5_on, AF6_on],
         tf_off=A_tf_off, f_off=[AF1_off, AF2_off, AF3_off, AF4_off, AF5_off, AF6_off],
         params=A_params, box=(61, 50, 236, 82.3), cols=[65, 109, 152.8, 196.8], rows=[60, 74],
         xlab=(313.7, 301), ylab=(15.5, 152)),
    dict(ax="2", title=titles[1], tpos=(610, 22), xdom=(615.7, 1140), ydom=(38.3, 267.3),
         xr=[34.7, 180.2], yr=[-0.2, 69.9], xt=B_xticks, yt=B_yticks, mirror_y=False,
         dcol="rgba(176,128,72,0.95)",
         t_on=B_t_on, d_on=[B1_on, B2_on, B3_on, B4_on, B5_on, B6_on],
         t_off=B_t_off, d_off=[B1_off, B2_off, B3_off, B4_off, B5_off, B6_off],
         tf_on=B_tf_on, f_on=[BF1_on, BF2_on, BF3_on, BF4_on, BF5_on, BF6_on],
         tf_off=B_tf_off, f_off=[BF1_off, BF2_off, BF3_off, BF4_off, BF5_off, BF6_off],
         params=B_params, box=(628.9, 50, 804.5, 83), cols=[632.5, 676.5, 720.9, 764.5], rows=[60, 74],
         xlab=(884.4, 301.7), ylab=(588, 150)),
    dict(ax="3", title=titles[2], tpos=(28, 324), xdom=(44, 578.2), ydom=(341.7, 569.7),
         xr=[47.8, 446.3], yr=[-0.7, 30.2], xt=C_xticks, yt=C_yticks, mirror_y=True,
         dcol="rgba(35,35,255,0.8)",
         t_on=C_t_on, d_on=[C1_on, C2_on, C3_on, C4_on, C5_on, C6_on, C7_on],
         t_off=C_t_off, d_off=[C1_off, C2_off, C3_off, C4_off, C5_off, C6_off, C7_off],
         tf_on=C_tf_on, f_on=[CF1_on, CF2_on, CF3_on, CF4_on, CF5_on, CF6_on, CF7_on],
         tf_off=C_tf_off, f_off=[CF1_off, CF2_off, CF3_off, CF4_off, CF5_off, CF6_off, CF7_off],
         params=C_params, box=(56.2, 352.7, 232, 386.7), cols=[60.3, 104.7, 148.4, 192], rows=[362.7, 377.7],
         xlab=(310.8, 602), ylab=(16.6, 457)),
    dict(ax="4", title=titles[3], tpos=(601, 324), xdom=(616.2, 1140), ydom=(341.7, 569.7),
         xr=[48.1, 257.8], yr=[-1, 45.7], xt=D_xticks, yt=D_yticks, mirror_y=False,
         dcol="rgba(45,45,45,0.9)",
         t_on=D_t_on, d_on=[D1_on, D2_on, D3_on, D4_on, D5_on, D6_on],
         t_off=D_t_off, d_off=[D1_off, D2_off, D3_off, D4_off, D5_off, D6_off],
         tf_on=D_tf_on, f_on=[DF1_on, DF2_on, DF3_on, DF4_on, DF5_on, DF6_on],
         tf_off=D_tf_off, f_off=[DF1_off, DF2_off, DF3_off, DF4_off, DF5_off, DF6_off],
         params=D_params, box=(628.5, 352.7, 802.6, 386.7), cols=[632.5, 676.1, 719.4, 763.4], rows=[362.7, 377.7],
         xlab=(881.9, 602), ylab=(587.5, 455)),
]

FIT_COLOR = "rgba(255,35,35,0.82)"
FONT = "Open Sans"

fig = go.Figure()
layout = dict(width=W, height=H, margin=dict(l=0, r=0, t=0, b=0), autosize=False,
              paper_bgcolor="white", plot_bgcolor="white", showlegend=False, hovermode=False)
annotations = []
shapes = []


def joined(t1, y1, t2, y2):
    n1 = min(len(t1), len(y1))
    n2 = min(len(t2), len(y2))
    return list(t1[:n1]) + [None] + list(t2[:n2]), list(y1[:n1]) + [None] + list(y2[:n2])


for p in panels:
    xa = "x" + p["ax"]
    ya = "y" + p["ax"]
    for y1, y2 in zip(p["d_on"], p["d_off"]):
        xs, ys = joined(p["t_on"], y1, p["t_off"], y2)
        fig.add_trace(go.Scatter(x=xs, y=ys, mode="lines", xaxis=xa, yaxis=ya,
                                 line=dict(color=p["dcol"], width=1.3), connectgaps=False))
    for y1, y2 in zip(p["f_on"], p["f_off"]):
        xs, ys = joined(p["tf_on"], y1, p["tf_off"], y2)
        fig.add_trace(go.Scatter(x=xs, y=ys, mode="lines", xaxis=xa, yaxis=ya,
                                 line=dict(color=FIT_COLOR, width=1.6, shape="spline", smoothing=0.6),
                                 connectgaps=False))
    xkey = "xaxis" + p["ax"]
    ykey = "yaxis" + p["ax"]
    layout[xkey] = dict(domain=[fx(p["xdom"][0]), fx(p["xdom"][1])], range=p["xr"], anchor=ya,
                        tickvals=p["xt"], showgrid=True, gridcolor="#cdcdcd", gridwidth=1.6,
                        zeroline=False, showline=True, mirror=True, linecolor="#5c5c5c", linewidth=1.6,
                        ticks="outside", ticklen=4, tickcolor="rgba(0,0,0,0)",
                        tickfont=dict(family=FONT, size=10.5, color="#6a6a6a"))
    layout[ykey] = dict(domain=[fy(p["ydom"][1]), fy(p["ydom"][0])], range=p["yr"], anchor=xa,
                        tickvals=p["yt"], showgrid=True, gridcolor="#cdcdcd", gridwidth=1.6,
                        zeroline=False, showline=True, mirror=p["mirror_y"], linecolor="#5c5c5c",
                        linewidth=1.6, ticks="outside", ticklen=5, tickcolor="#9a9a9a", tickwidth=1,
                        tickfont=dict(family=FONT, size=10.5, color="#6a6a6a"))
    # panel title
    annotations.append(dict(x=fx(p["tpos"][0]), y=fy(p["tpos"][1]), xref="paper", yref="paper",
                            text=p["title"], showarrow=False, xanchor="left", yanchor="middle",
                            font=dict(family=FONT, size=21, color="#111111")))
    # axis titles
    annotations.append(dict(x=fx(p["xlab"][0]), y=fy(p["xlab"][1]), xref="paper", yref="paper",
                            text="<b>Time (sec)</b>", showarrow=False, xanchor="center", yanchor="middle",
                            font=dict(family=FONT, size=8.5, color="#444444")))
    annotations.append(dict(x=fx(p["ylab"][0]), y=fy(p["ylab"][1]), xref="paper", yref="paper",
                            text="<b>Response (RU)</b>", showarrow=False, xanchor="center", yanchor="middle",
                            textangle=-90, font=dict(family=FONT, size=8.5, color="#444444")))
    # fit-parameter box
    bx0, by0, bx1, by1 = p["box"]
    shapes.append(dict(type="rect", xref="paper", yref="paper", x0=fx(bx0), x1=fx(bx1), y0=fy(by1), y1=fy(by0),
                       line=dict(color="#5a5a5a", width=1.5), fillcolor="white", layer="above"))
    for ci, cx in enumerate(p["cols"]):
        for ri, row_vals in enumerate([param_headers, p["params"]]):
            annotations.append(dict(x=fx(cx), y=fy(p["rows"][ri]), xref="paper", yref="paper",
                                    text=row_vals[ci], showarrow=False, xanchor="left", yanchor="middle",
                                    font=dict(family=FONT, size=11, color="#2a2a2a")))

layout["annotations"] = annotations
layout["shapes"] = shapes
fig.update_layout(**layout)
fig.write_html("out.html", config={"displayModeBar": False},
               post_script="document.body.style.margin='0';document.body.style.padding='0';"
                           "document.body.style.overflow='hidden';")
